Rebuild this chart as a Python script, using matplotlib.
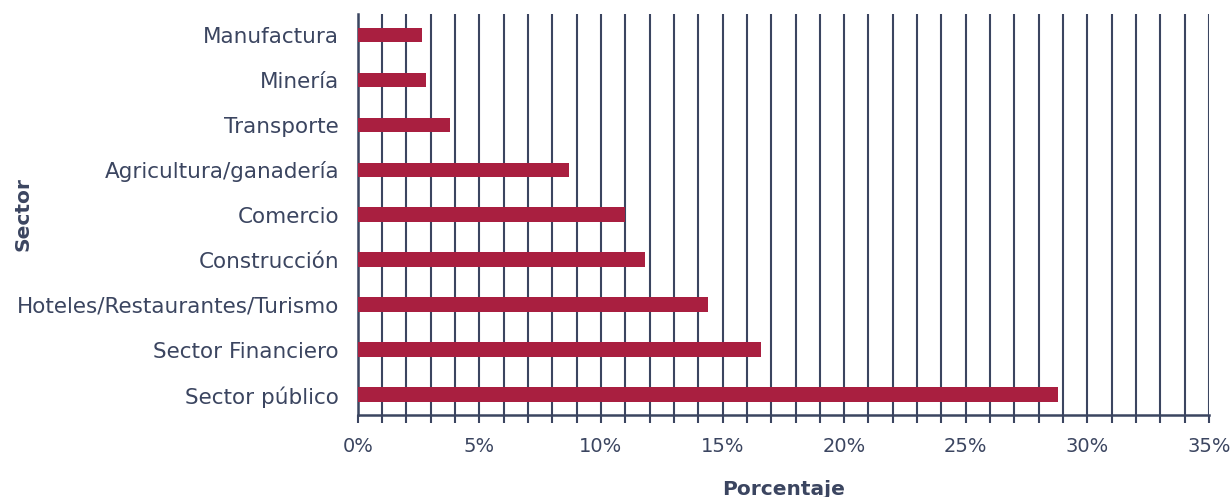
import matplotlib.pyplot as plt
from matplotlib.ticker import MultipleLocator, FuncFormatter

# data
sectores = ['Sector público', 'Sector Financiero', 'Hoteles/Restaurantes/Turismo',
            'Construcción', 'Comercio', 'Agricultura/ganadería', 'Transporte',
            'Minería', 'Manufactura']
porcentaje = [28.8, 16.6, 14.4, 11.8, 11.0, 8.7, 3.8, 2.8, 2.65]

dark = '#3B4560'
red = '#A91F40'

plt.rcParams['font.family'] = ['DejaVu Sans']

fig = plt.figure(figsize=(12.31, 4.97), dpi=100)
ax = fig.add_axes([0.2906, 0.165, 0.6915, 0.807])

ax.barh(range(len(sectores)), porcentaje, height=0.33, color=red, zorder=3)

ax.set_xlim(0, 35)
ax.set_ylim(-0.45, 8.47)
ax.xaxis.set_major_locator(MultipleLocator(5))
ax.xaxis.set_minor_locator(MultipleLocator(1))
ax.xaxis.set_major_formatter(FuncFormatter(lambda v, p: f'{v:.0f}%'))
ax.grid(axis='x', which='both', color=dark, linewidth=1.5, zorder=0)
ax.tick_params(axis='x', which='both', length=6, width=1.5, color=dark,
               labelsize=14, labelcolor=dark, pad=10)
ax.set_yticks(range(len(sectores)))
ax.set_yticklabels(sectores)
ax.tick_params(axis='y', length=0, labelsize=15.5, labelcolor=dark, pad=13.5)

for s in ['top', 'right']:
    ax.spines[s].set_visible(False)
for s in ['left', 'bottom']:
    ax.spines[s].set_color(dark)
    ax.spines[s].set_linewidth(1.8)

ax.set_xlabel('Porcentaje', fontsize=14.5, fontweight='bold', color=dark, labelpad=17)
ax.set_ylabel('Sector', fontsize=14.5, fontweight='bold', color=dark)
ax.yaxis.set_label_coords(-0.382, 0.5)

fig.savefig('out.png', dpi=100)
